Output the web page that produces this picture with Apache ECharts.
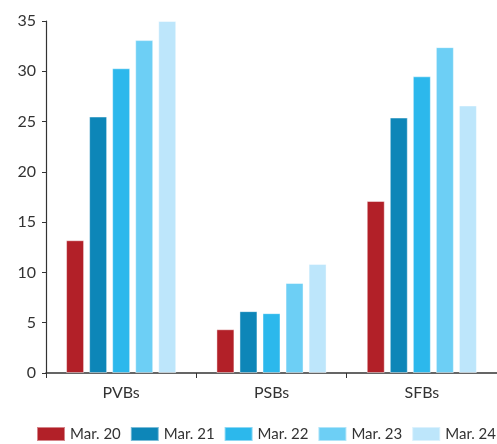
<!DOCTYPE html>
<html><head><meta charset="utf-8">
<script src="https://cdn.jsdelivr.net/npm/echarts@6/dist/echarts.min.js"></script>
<style>html,body{margin:0;padding:0;background:#fff}#c{width:497px;height:444px}</style>
</head><body><div id="c"></div>
<script>
const categories = ["PVBs", "PSBs", "SFBs"];
const seriesNames = ["Mar. 20", "Mar. 21", "Mar. 22", "Mar. 23", "Mar. 24"];
const mar20 = [13.2, 4.35, 17.1];
const mar21 = [25.5, 6.15, 25.4];
const mar22 = [30.3, 5.95, 29.5];
const mar23 = [33.1, 8.95, 32.4];
const mar24 = [35.0, 10.85, 26.6];
const colors = ["#b22028", "#0d86b8", "#2cb8ec", "#6dcff5", "#bde6fb"];
const values = [mar20, mar21, mar22, mar23, mar24];
const font = "'Source Sans Pro', Lato, 'Noto Sans', sans-serif";
const chart = echarts.init(document.getElementById('c'));
chart.setOption({
  animation: false,
  textStyle: {fontFamily: font},
  grid: {left: 46, right: 0, top: 21, bottom: 71},
  legend: {
    left: 36, top: 426, width: 461, padding: 0, icon: 'rect', itemWidth: 28, itemHeight: 14, itemGap: 9,
    textStyle: {fontSize: 15, color: '#333', fontFamily: font},
    data: seriesNames
  },
  xAxis: {
    type: 'category', data: categories,
    axisLine: {lineStyle: {color: '#333', width: 1.5}},
    axisTick: {show: true, length: 5, lineStyle: {color: '#333'}},
    axisLabel: {fontSize: 16, color: '#333', margin: 12, fontFamily: font}
  },
  yAxis: {
    type: 'value', min: 0, max: 35, interval: 5,
    axisLine: {show: true, lineStyle: {color: '#333', width: 1.2}},
    axisTick: {show: true, length: 4, lineStyle: {color: '#333'}},
    splitLine: {show: false},
    axisLabel: {fontSize: 16, color: '#333', margin: 10, fontFamily: font}
  },
  series: seriesNames.map((n, i) => ({
    name: n, type: 'bar', data: values[i],
    barWidth: 18, barGap: '28%',
    itemStyle: {color: colors[i], borderColor: 'rgba(255,255,255,0.45)', borderWidth: 1}
  }))
});
</script></body></html>
